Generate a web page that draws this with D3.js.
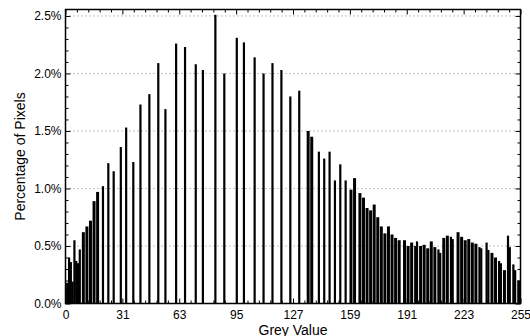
<!DOCTYPE html>
<html>
<head>
<meta charset="utf-8">
<script src="https://cdn.jsdelivr.net/npm/d3@7/dist/d3.min.js"></script>
<style>
  body { margin: 0; background: #fff; }
  svg { display: block; font-family: "Liberation Sans", Arial, Helvetica, sans-serif; }
  .tick text { font-size: 12px; fill: #000; }
  .tick line { stroke: #000; stroke-width: 1; }
  .domain { display: none; }
</style>
</head>
<body>
<script>
// grey levels that hold pixels, and their share of all pixels (%)
var greyLevels = [0, 1, 2, 3, 4, 5, 6, 7, 8, 10, 12, 14, 16, 18, 21, 24, 27, 31, 34, 38,
    42, 47, 52, 56, 62, 67, 73, 77, 84, 89, 96, 100, 106, 111, 116, 121, 126, 131, 136, 138,
    142, 145, 148, 151, 154, 157, 160, 162, 165, 167, 169, 171, 173, 175, 177, 179, 181, 183, 185, 187,
    190, 192, 194, 196, 197, 199, 201, 203, 205, 207, 209, 210, 212, 214, 216, 217, 220, 222, 224, 226,
    228, 230, 232, 233, 236, 237, 239, 241, 243, 244, 246, 248, 249, 251, 252, 254];
var pixelPct = [0.18, 0.18, 0.40, 0.36, 0.19, 0.55, 0.37, 0.35, 0.47, 0.62, 0.67, 0.72, 0.89, 0.97, 1.02, 1.22, 1.15, 1.36, 1.53, 1.23,
    1.73, 1.82, 2.09, 1.69, 2.26, 2.23, 2.08, 2.03, 2.51, 2.00, 2.31, 2.27, 2.14, 2.00, 2.09, 2.03, 1.80, 1.85, 1.50, 1.45,
    1.32, 1.26, 1.32, 1.07, 1.21, 1.07, 0.99, 1.09, 0.96, 0.92, 0.83, 0.81, 0.86, 0.75, 0.67, 0.61, 0.67, 0.60, 0.57, 0.55,
    0.55, 0.50, 0.53, 0.50, 0.54, 0.50, 0.51, 0.48, 0.54, 0.49, 0.47, 0.44, 0.57, 0.59, 0.58, 0.56, 0.62, 0.58, 0.55, 0.56,
    0.53, 0.52, 0.49, 0.48, 0.53, 0.465, 0.44, 0.40, 0.37, 0.35, 0.29, 0.59, 0.49, 0.34, 0.29, 0.20];

var xTickValues = d3.range(9).map(function(i) { return i * 255 / 8; });
var xTickLabels = ["0", "31", "63", "95", "127", "159", "191", "223", "255"];
var yTickValues = [0, 0.5, 1.0, 1.5, 2.0, 2.5];
var yTickLabels = ["0.0%", "0.5%", "1.0%", "1.5%", "2.0%", "2.5%"];

var W = 530, H = 336;
var margin = { left: 65.5, right: 9.5, top: 9.5, bottom: 32.5 };
var w = W - margin.left - margin.right;
var h = H - margin.top - margin.bottom;

var x = d3.scaleLinear().domain([0, 255]).range([0, w]);
var y = d3.scaleLinear().domain([0, 2.556]).range([h, 0]);

var svg = d3.select("body").append("svg")
    .attr("width", W)
    .attr("height", H);

var g = svg.append("g")
    .attr("transform", "translate(" + margin.left + "," + margin.top + ")");

g.append("clipPath").attr("id", "plotclip")
  .append("rect").attr("width", w).attr("height", h);

// dotted horizontal grid
g.append("g").attr("class", "grid")
  .selectAll("line")
  .data(yTickValues.slice(1))
  .enter()
  .append("line")
  .attr("x1", 0).attr("x2", w)
  .attr("y1", function(d) { return y(d); })
  .attr("y2", function(d) { return y(d); })
  .attr("stroke", "#8a8a8a")
  .attr("stroke-width", 1)
  .attr("stroke-dasharray", "1,3");

// histogram bars: where levels sit 2 apart the bars nearly touch
function barWidth(i) {
    var next = greyLevels[i + 1];
    var prev = greyLevels[i - 1];
    var gap = Math.min(next == null ? 9 : next - greyLevels[i], prev == null ? 9 : greyLevels[i] - prev);
    return gap == 2 ? 3.0 : 2.2;
}
g.append("g").attr("clip-path", "url(#plotclip)")
  .selectAll("rect")
  .data(greyLevels)
  .enter()
  .append("rect")
  .attr("x", function(d, i) { return x(d) - barWidth(i) / 2; })
  .attr("width", function(d, i) { return barWidth(i); })
  .attr("y", function(d, i) { return y(pixelPct[i]); })
  .attr("height", function(d, i) { return h - y(pixelPct[i]); })
  .attr("fill", "#000");

// minor tick positions
var xMinor = d3.range(41).map(function(i) { return i * 255 / 40; })
    .filter(function(d, i) { return i % 5 != 0; });
var yMinor = d3.range(1, 26).map(function(i) { return i / 10; })
    .filter(function(d, i) { return (i + 1) % 5 != 0; });

// bottom axis (labels) + top mirror
g.append("g")
  .attr("transform", "translate(0," + h + ")")
  .call(d3.axisBottom(x).tickValues(xTickValues).tickSize(-5).tickPadding(7)
    .tickFormat(function(d, i) { return xTickLabels[i]; }));
g.append("g")
  .attr("transform", "translate(0," + h + ")")
  .call(d3.axisBottom(x).tickValues(xMinor).tickSize(-3).tickFormat(""));
g.append("g")
  .call(d3.axisTop(x).tickValues(xTickValues).tickSize(-5).tickFormat(""));
g.append("g")
  .call(d3.axisTop(x).tickValues(xMinor).tickSize(-3).tickFormat(""));

// left axis (labels) + right mirror
g.append("g")
  .call(d3.axisLeft(y).tickValues(yTickValues).tickSize(-5).tickPadding(4)
    .tickFormat(function(d, i) { return yTickLabels[i]; }));
g.append("g")
  .call(d3.axisLeft(y).tickValues(yMinor).tickSize(-3).tickFormat(""));
g.append("g")
  .attr("transform", "translate(" + w + ",0)")
  .call(d3.axisRight(y).tickValues(yTickValues).tickSize(-5).tickFormat(""));
g.append("g")
  .attr("transform", "translate(" + w + ",0)")
  .call(d3.axisRight(y).tickValues(yMinor).tickSize(-3).tickFormat(""));

// frame
g.append("rect")
  .attr("width", w).attr("height", h)
  .attr("fill", "none")
  .attr("stroke", "#000")
  .attr("stroke-width", 1.5);

// axis titles
svg.append("text")
  .attr("x", margin.left + w / 2)
  .attr("y", 334.5)
  .attr("text-anchor", "middle")
  .attr("font-size", 14)
  .text("Grey Value");

svg.append("text")
  .attr("transform", "translate(25," + (margin.top + h / 2) + ") rotate(-90)")
  .attr("text-anchor", "middle")
  .attr("font-size", 14)
  .text("Percentage of Pixels");
</script>
</body>
</html>
